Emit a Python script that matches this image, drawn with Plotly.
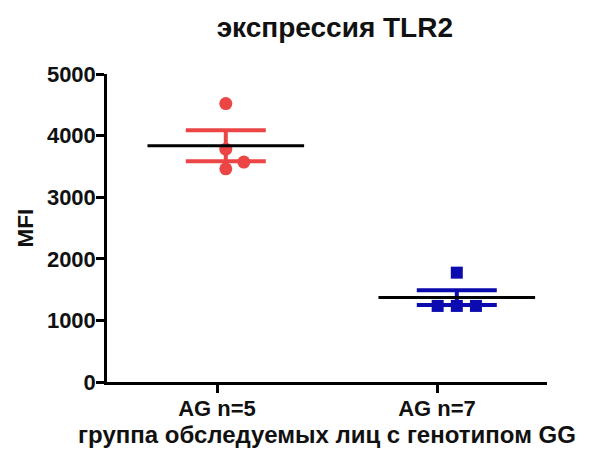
import plotly.graph_objects as go

# ---- data ----
categories = ["AG n=5", "AG n=7"]
group_pos = [1.04, 2.09]          # centre of each group's scatter (axis units)
g1_values = [4520, 3780, 3570, 3460]
g1_jitter = [0.0, 0.0, 0.082, 0.0]
g2_values = [1775, 1235, 1235, 1235]
g2_jitter = [0.0, -0.087, 0.0, 0.087]
means = [3835, 1370]
sems = [250, 120]
colors = ["#ec4545", "#0b0bb0"]
symbols = ["circle", "square"]
yticks = [0, 1000, 2000, 3000, 4000, 5000]

FONT = "Liberation Sans, Arial, sans-serif"
MEAN_HALF = 0.356

fig = go.Figure()
groups = [(g1_values, g1_jitter), (g2_values, g2_jitter)]
for i, (vals, jit) in enumerate(groups):
    # error bars (mean ± SEM)
    fig.add_trace(go.Scatter(
        x=[group_pos[i]], y=[means[i]], mode="markers",
        marker=dict(size=1, color="rgba(0,0,0,0)"),
        error_y=dict(type="data", array=[sems[i]], visible=True,
                     color=colors[i], thickness=4, width=40),
        showlegend=False, hoverinfo="skip"))
    # individual points
    fig.add_trace(go.Scatter(
        x=[group_pos[i] + j for j in jit], y=vals, mode="markers",
        marker=dict(size=13 if symbols[i] == "circle" else 12,
                    color=colors[i], symbol=symbols[i], line=dict(width=0)),
        showlegend=False))
for i in range(2):
    # mean line
    fig.add_trace(go.Scatter(
        x=[group_pos[i] - MEAN_HALF, group_pos[i] + MEAN_HALF],
        y=[means[i], means[i]], mode="lines",
        line=dict(color="black", width=3), showlegend=False))

fig.update_layout(
    width=611, height=453,
    margin=dict(l=107, r=64, t=74, b=71),
    plot_bgcolor="white", paper_bgcolor="white",
    font=dict(family=FONT, color="#111111"),
    title=dict(text="<b>экспрессия TLR2</b>", x=0.548, xanchor="center",
               y=0.94, yanchor="middle", font=dict(size=28, family=FONT, color="#111111")),
)
fig.update_xaxes(
    range=[0.5, 2.5], tickvals=[1, 2], ticktext=[f"<b>{c}</b>" for c in categories],
    showline=True, linecolor="black", linewidth=2.5, ticks="outside",
    ticklen=8, tickwidth=2.5, tickcolor="black", showgrid=False, zeroline=False,
    tickfont=dict(size=22, family=FONT, color="#111111"),
    ticklabelstandoff=-3,
    title=dict(text="<b>группа обследуемых лиц с генотипом GG</b>",
               font=dict(size=24, family=FONT, color="#111111"), standoff=4),
)
fig.update_yaxes(
    range=[0, 5000], tickvals=yticks, ticktext=[f"<b>{v}</b>" for v in yticks],
    showline=True, linecolor="black", linewidth=2.5, ticks="outside",
    ticklen=8, tickwidth=2.5, tickcolor="black", showgrid=False, zeroline=False,
    tickfont=dict(size=22, family=FONT, color="#111111"),
    ticklabelstandoff=-4,
    title=dict(text="<b>MFI</b>", font=dict(size=22.5, family=FONT, color="#111111"), standoff=8),
)

fig.write_html("out.html")
